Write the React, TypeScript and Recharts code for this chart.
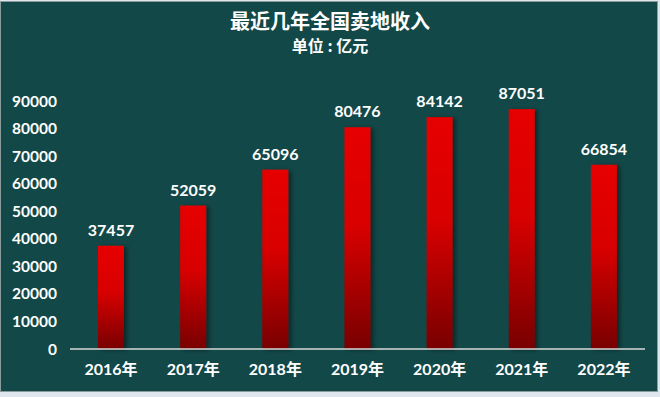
import React from 'react';
import { BarChart, Bar, XAxis, YAxis, LabelList } from 'recharts';

const categories = ['2016年', '2017年', '2018年', '2019年', '2020年', '2021年', '2022年'];
const revenue = [37457, 52059, 65096, 80476, 84142, 87051, 66854];
const yTicks = [0, 10000, 20000, 30000, 40000, 50000, 60000, 70000, 80000, 90000];

const data = categories.map((c, i) => ({ year: c, value: revenue[i] }));

const FONT = "Lato, 'Noto Sans CJK SC', sans-serif";

const BarShape = (props: any) => {
  const { x, y, width, height } = props;
  if (!height || height <= 0) return null;
  return (
    <g>
      <rect x={x} y={y} width={width} height={height} fill="url(#barGrad)" filter="url(#barShadow)" />
    </g>
  );
};

export default function App() {
  return (
    <div style={{ position: 'absolute', left: 0, top: 0, width: 660, height: 397, background: '#dfe6ee' }}>
      <div
        style={{
          position: 'absolute',
          left: 0,
          top: 1,
          width: 656,
          height: 389,
          background: '#134848',
          border: '1px solid #8c9c9c',
        }}
      />
      <div style={{ position: 'absolute', left: 0, top: 0 }}>
        <BarChart width={660} height={397} data={data} margin={{ top: 101, right: 15, bottom: 18, left: 0 }}>
          <defs>
            <linearGradient id="barGrad" x1="0" y1="0" x2="0" y2="1">
              <stop offset="0%" stopColor="#e60000" />
              <stop offset="45%" stopColor="#d80000" />
              <stop offset="100%" stopColor="#780000" />
            </linearGradient>
            <filter id="barShadow" x="-30%" y="-10%" width="180%" height="120%">
              <feDropShadow dx="3" dy="1" stdDeviation="2" floodColor="#000000" floodOpacity="0.45" />
            </filter>
          </defs>
          <text x={330} y={29} textAnchor="middle" fill="#ffffff" fontSize={20} fontWeight="bold" fontFamily="'Noto Sans CJK SC', sans-serif">
            最近几年全国卖地收入
          </text>
          <text x={330} y={52} textAnchor="middle" fill="#ffffff" fontSize={16} fontWeight="bold" fontFamily="'Noto Sans CJK SC', sans-serif">
            单位 : 亿元
          </text>
          <XAxis
            dataKey="year"
            axisLine={{ stroke: '#d9d9d9', strokeWidth: 1.5 }}
            tickLine={false}
            tickSize={0}
            tickMargin={15}
            height={30}
            tick={{ fill: '#ffffff', fontSize: 16, fontWeight: 'bold', fontFamily: FONT }}
            interval={0}
          />
          <YAxis
            domain={[0, 90000]}
            ticks={yTicks}
            axisLine={false}
            tickLine={false}
            tickSize={0}
            tickMargin={13}
            width={70}
            interval={0}
            tick={{ fill: '#ffffff', fontSize: 15.5, fontWeight: 'bold', fontFamily: FONT }}
          />
          <Bar dataKey="value" barSize={26} shape={<BarShape />} isAnimationActive={false}>
            <LabelList
              dataKey="value"
              position="top"
              offset={10}
              fill="#ffffff"
              fontSize={16}
              fontWeight="bold"
              fontFamily={FONT}
            />
          </Bar>
        </BarChart>
      </div>
    </div>
  );
}
